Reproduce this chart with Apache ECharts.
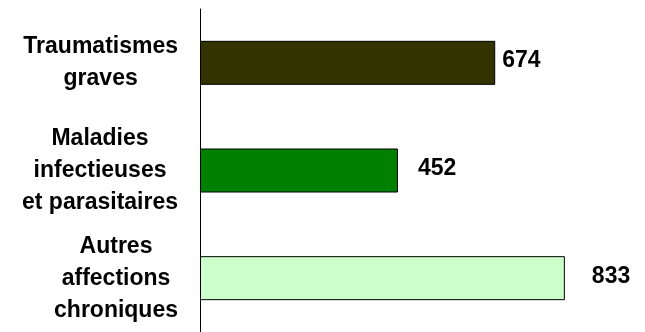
<!DOCTYPE html>
<html>
<head>
<meta charset="utf-8">
<script src="https://cdn.jsdelivr.net/npm/echarts@6/dist/echarts.min.js"></script>
<style>
  html, body { margin: 0; padding: 0; background: #fff; }
  #chart { width: 645px; height: 332px; }
</style>
</head>
<body>
<div id="chart"></div>
<script>
// categories, top to bottom
const categories = [
  ['Traumatismes', 'graves'],
  ['Maladies', 'infectieuses', 'et parasitaires'],
  ['Autres', 'affections', 'chroniques']
]
const values = [674, 452, 833]
const barColors = ['#333300', '#008000', '#ccffcc']
// gap between bar end and its value label
const labelGaps = [7, 20, 27]

const font = "'Liberation Sans', Arial, sans-serif"

const chart = echarts.init(document.getElementById('chart'))

chart.setOption({
  animation: false,
  grid: {
    left: 200,
    top: 9,
    width: 438,
    height: 326
  },
  xAxis: {
    type: 'value',
    min: 0,
    max: 1000,
    show: false
  },
  yAxis: {
    type: 'category',
    inverse: true,
    data: categories.map(lines => lines.join('\n')),
    axisLine: { lineStyle: { color: '#000', width: 1 } },
    axisTick: { show: false },
    axisLabel: {
      margin: 22,
      align: 'right',
      formatter: v => v.split('\n').map(s => '{c|' + s + '}').join('\n'),
      rich: {
        c: {
          align: 'center',
          fontFamily: font,
          fontWeight: 'bold',
          fontSize: 23,
          lineHeight: 32,
          color: '#000'
        }
      }
    }
  },
  series: [{
    type: 'bar',
    barWidth: 44,
    data: values.map((v, i) => ({
      value: v,
      itemStyle: { color: barColors[i] },
      label: { distance: labelGaps[i] }
    })),
    itemStyle: { borderColor: '#000', borderWidth: 1 },
    label: {
      show: true,
      position: 'right',
      offset: [0, -2],
      fontFamily: font,
      fontWeight: 'bold',
      fontSize: 23,
      color: '#000'
    }
  }]
})
</script>
</body>
</html>
